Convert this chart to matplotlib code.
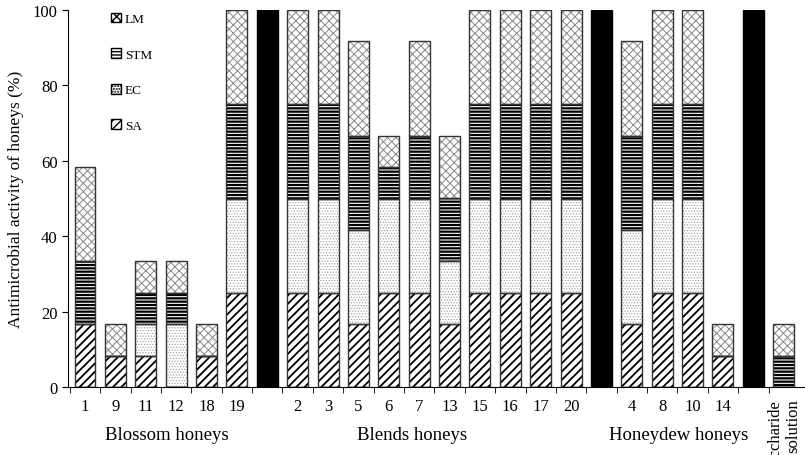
import matplotlib
matplotlib.use("Agg")
import matplotlib.pyplot as plt
from matplotlib.patches import Patch
import numpy as np

plt.rcParams['font.family'] = ['Liberation Serif', 'DejaVu Serif']

# ---- data ----
categories = ['1', '9', '11', '12', '18', '19', '',
              '2', '3', '5', '6', '7', '13', '15', '16', '17', '20', '',
              '4', '8', '10', '14', '', 'Saccharide\nsolution']
SA = [16.67, 8.33, 8.33, 0, 8.33, 25, 0,
      25, 25, 16.67, 25, 25, 16.67, 25, 25, 25, 25, 0,
      16.67, 25, 25, 8.33, 0, 0]
EC = [0, 0, 8.33, 16.67, 0, 25, 0,
      25, 25, 25, 25, 25, 16.67, 25, 25, 25, 25, 0,
      25, 25, 25, 0, 0, 0]
STM = [16.67, 0, 8.33, 8.33, 0, 25, 0,
       25, 25, 25, 8.33, 16.67, 16.67, 25, 25, 25, 25, 0,
       25, 25, 25, 0, 0, 8.33]
LM = [25, 8.33, 8.33, 8.33, 8.33, 25, 0,
      25, 25, 25, 8.33, 25, 16.67, 25, 25, 25, 25, 0,
      25, 25, 25, 8.33, 0, 8.33]
separator = [0, 0, 0, 0, 0, 0, 100,
             0, 0, 0, 0, 0, 0, 0, 0, 0, 0, 100,
             0, 0, 0, 0, 100, 0]
groups = ['Blossom honeys', 'Blends honeys', 'Honeydew honeys']
group_pos = [2.7, 10.77, 19.55]
yticks = [0, 20, 40, 60, 80, 100]

fig = plt.figure(figsize=(8.05, 4.56), dpi=100)
ax = fig.add_axes([68 / 805, 1 - 388 / 456, 1 - 68 / 805, (388 - 11) / 456])

x = np.arange(len(categories))
w = 0.69
series = [
    ('SA', SA, '////', 'black', 1.3),
    ('EC', EC, '......', '#999999', 0.5),
    ('STM', STM, '-----', 'black', 1.6),
    ('LM', LM, 'xxxx', '#888888', 0.7),
]
bottom = np.zeros(len(x))
for name, vals, hatch, hcol, hlw in series:
    vals = np.array(vals, dtype=float)
    with plt.rc_context({'hatch.linewidth': hlw}):
        ax.bar(x, vals, w, bottom=bottom, color='white', edgecolor=hcol,
               hatch=hatch, linewidth=0, zorder=2)
    ax.bar(x, vals, w, bottom=bottom, color='none', edgecolor='#333333',
           linewidth=1.0, zorder=3)
    bottom += vals
ax.bar(x, separator, w, color='black', edgecolor='black', linewidth=1, zorder=3)

ax.set_xlim(-0.56, 23.7)
ax.set_ylim(0, 100)
ax.spines['top'].set_visible(False)
ax.spines['right'].set_visible(False)
ax.set_yticks(yticks)
ax.tick_params(axis='y', direction='out', length=4, labelsize=12)
ax.set_xticks(x)
ax.set_xticklabels(categories)
ax.tick_params(axis='x', which='major', length=0, pad=8, labelsize=12)
ax.set_xticks(np.arange(-0.5, len(categories) - 1, 1.0), minor=True)
ax.tick_params(axis='x', which='minor', direction='out', length=4)
last = ax.get_xticklabels()[-1]
last.set_rotation(90)
last.set_multialignment('right')
last.set_va('top')
last.set_fontsize(12)
ax.set_ylabel('Antimicrobial activity of honeys (%)', fontsize=12.5, labelpad=6)

for g, gp in zip(groups, group_pos):
    ax.text(gp, -0.125, g, transform=ax.get_xaxis_transform(), ha='center', va='center',
            fontsize=13.5)

handles = []
for name, vals, hatch, hcol, hlw in series[::-1]:
    handles.append(Patch(facecolor='white', edgecolor='black', hatch=hatch, label=name))
ax.legend(handles=handles, loc='upper left', bbox_to_anchor=(0.042, 1.024), frameon=False,
          fontsize=9.5, handlelength=0.75, handleheight=0.75, handletextpad=0.3,
          labelspacing=1.75)

fig.savefig('out.png', dpi=100)
